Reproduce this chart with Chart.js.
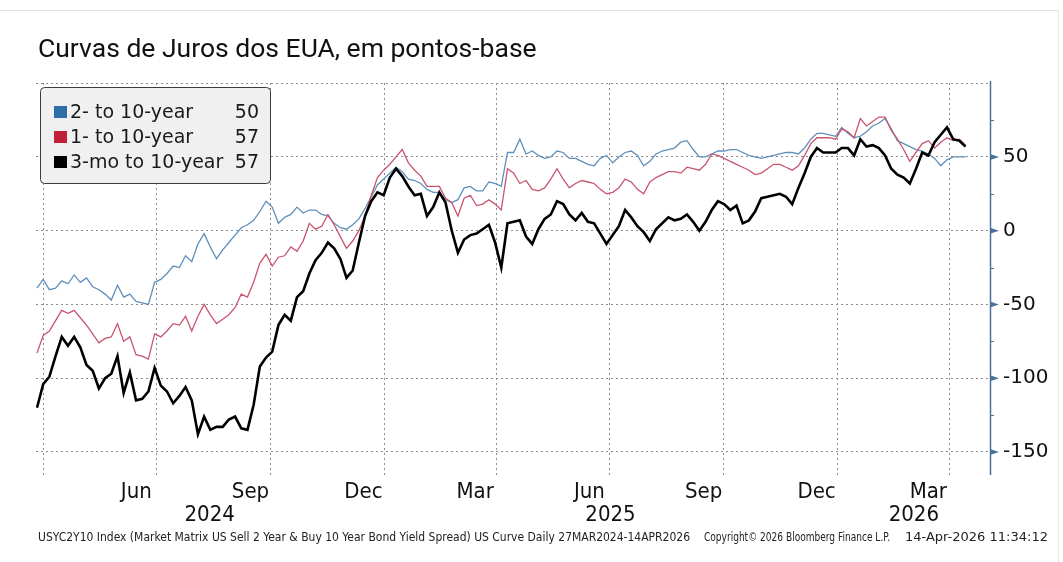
<!DOCTYPE html>
<html><head><meta charset="utf-8">
<script src="https://cdn.jsdelivr.net/npm/chart.js@4"></script>
<style>html,body{margin:0;padding:0;background:#fff;}canvas{display:block}</style>
</head><body>
<canvas id="c" width="1063" height="562"></canvas>
<script>
const chartTitle = 'Curvas de Juros dos EUA, em pontos-base';
const startDate = '2024-03-27';
const endDate = '2026-04-14';
const seriesNames = ['2- to 10-year', '1- to 10-year', '3-mo to 10-year'];
const lastValues = ['50', '57', '57'];
const seriesColors = ['#5f8fbb', '#c9546f', '#000000'];
const swatchColors = ['#2f6da8', '#c21f3a', '#000000'];

// sampled values (basis points), evenly spaced from startDate to endDate
const twoTen = [-39,-33,-40,-39,-34,-36,-30,-35,-32,-38,-40,-43,-47,-37,-45,-43,-48,-49,-50,-35,
-33,-29,-24,-25,-17,-21,-9,-2,-11,-19,-13,-8,-3,2,4,7,13,20,16,5,
9,11,16,12,14,14,11,10,5,2,1,4,8,15,23,31,35,39,43,40,
35,34,32,28,26,26,21,19,21,29,30,27,27,33,32,30,53,53,62,52,
54,51,49,50,54,53,49,49,47,45,44,49,51,46,50,53,54,51,44,47,
52,54,55,56,60,61,55,50,50,52,54,54,55,55,53,51,50,49,50,51,
52,53,53,52,56,62,66,66,65,64,70,66,63,64,67,71,73,76,69,61,
59,57,55,54,52,49,44,48,50,50,50];
const oneTen = [-83,-71,-68,-61,-54,-56,-54,-59,-64,-70,-76,-73,-72,-63,-75,-72,-84,-85,-87,-70,
-72,-68,-63,-64,-58,-68,-58,-50,-57,-63,-60,-57,-52,-43,-45,-35,-22,-16,-24,-18,
-17,-11,-14,-7,5,1,3,11,4,-4,-12,-7,0,10,24,36,41,45,50,55,
46,41,37,30,30,30,22,19,10,22,24,17,18,21,18,14,42,39,32,34,
28,27,29,35,42,35,29,32,34,33,32,28,25,26,29,35,33,28,25,33,
36,38,40,40,39,43,42,41,45,52,51,49,47,45,43,41,38,39,42,45,
45,43,41,44,51,59,63,63,63,62,69,67,63,76,71,74,77,77,68,62,
55,47,53,59,61,56,60,63,61,62,58];
const threeMoTen = [-120,-104,-99,-85,-72,-78,-72,-79,-91,-95,-107,-100,-97,-85,-110,-96,-115,-114,-109,-93,
-105,-109,-117,-112,-106,-115,-138,-126,-135,-133,-133,-128,-126,-134,-135,-118,-92,-86,-82,-64,
-57,-61,-45,-41,-29,-20,-15,-8,-12,-19,-32,-27,-8,10,20,26,24,36,42,37,
30,24,25,10,16,26,19,0,-15,-6,-3,-2,1,4,-8,-25,5,6,7,-4,
-9,1,8,11,20,18,11,7,12,6,5,-2,-9,-3,3,14,9,3,-1,-7,
1,5,9,7,8,11,6,0,6,14,20,18,14,17,5,7,13,22,23,24,
25,23,18,29,39,50,56,53,53,53,56,56,51,62,57,58,56,51,42,38,
36,32,42,53,51,60,65,70,62,61,57];

const yTickValues = [-150, -100, -50, 0, 50];
const yMinorValues = [-125, -75, -25, 25, 75];
const quarterStarts = ['2024-04-01','2024-07-01','2024-10-01','2025-01-01','2025-04-01','2025-07-01','2025-10-01','2026-01-01','2026-04-01'];
const monthLabels = [['Jun','2024-06-15'],['Sep','2024-09-15'],['Dec','2024-12-15'],['Mar','2025-03-15'],['Jun','2025-06-15'],['Sep','2025-09-15'],['Dec','2025-12-15'],['Mar','2026-03-15']];
const yearLabels = [['2024','2024-01-01','2024-12-31'],['2025','2025-01-01','2025-12-31'],['2026','2026-01-01','2026-12-31']];
const footerParts = [
  'USYC2Y10 Index (Market Matrix US Sell 2 Year & Buy 10 Year Bond Yield Spread) US Curve Daily 27MAR2024-14APR2026',
  'Copyright\u00A9 2026 Bloomberg Finance L.P.',
  '14-Apr-2026 11:34:12'
];

const DAY = 86400000;
const dayOf = d => (Date.parse(d) - Date.parse(startDate)) / DAY;
const span = dayOf(endDate);
const toPts = arr => arr.map((v, i) => ({x: i * span / (arr.length - 1), y: v}));

const AXIS_COLOR = '#4a7299';
const GRID_COLOR = '#8c8c8c';

function fitText(ctx, text, x, y, w) {
  const m = ctx.measureText(text).width;
  ctx.save();
  ctx.translate(x, y);
  ctx.scale(w / m, 1);
  ctx.fillText(text, 0, 0);
  ctx.restore();
}

const deco = {
  id: 'deco',
  beforeDraw(chart) {
    const ctx = chart.ctx;
    ctx.save();
    ctx.fillStyle = '#fff';
    ctx.fillRect(0, 0, chart.width, chart.height);
    ctx.strokeStyle = '#e2e2e2';
    ctx.lineWidth = 1;
    ctx.beginPath();
    ctx.moveTo(0, 10.5); ctx.lineTo(1058.5, 10.5); ctx.lineTo(1058.5, 562);
    ctx.stroke();
    ctx.fillStyle = '#111';
    ctx.font = '26.5px Roboto';
    ctx.textBaseline = 'middle';
    ctx.textAlign = 'left';
    ctx.fillText(chartTitle, 38, 50);
    ctx.restore();
  },
  afterDraw(chart) {
    const ctx = chart.ctx;
    const x = chart.scales.x, y = chart.scales.y;
    const a = chart.chartArea;
    ctx.save();
    ctx.strokeStyle = AXIS_COLOR;
    ctx.lineWidth = 1.5;
    ctx.beginPath();
    ctx.moveTo(a.right + 0.5, a.top - 2); ctx.lineTo(a.right + 0.5, a.bottom);
    ctx.stroke();
    ctx.fillStyle = AXIS_COLOR;
    yTickValues.forEach(v => {
      const py = y.getPixelForValue(v);
      ctx.beginPath();
      ctx.moveTo(a.right, py - 3); ctx.lineTo(a.right + 9, py); ctx.lineTo(a.right, py + 3);
      ctx.closePath(); ctx.fill();
    });
    ctx.lineWidth = 1;
    yMinorValues.forEach(v => {
      const py = Math.round(y.getPixelForValue(v)) + 0.5;
      ctx.beginPath(); ctx.moveTo(a.right, py); ctx.lineTo(a.right + 4, py); ctx.stroke();
    });
    const bx = 40.5, by = 87.5, bw = 230, bh = 96, r = 4;
    ctx.beginPath();
    ctx.moveTo(bx + r, by); ctx.lineTo(bx + bw - r, by); ctx.quadraticCurveTo(bx + bw, by, bx + bw, by + r);
    ctx.lineTo(bx + bw, by + bh - r); ctx.quadraticCurveTo(bx + bw, by + bh, bx + bw - r, by + bh);
    ctx.lineTo(bx + r, by + bh); ctx.quadraticCurveTo(bx, by + bh, bx, by + bh - r);
    ctx.lineTo(bx, by + r); ctx.quadraticCurveTo(bx, by, bx + r, by);
    ctx.closePath();
    ctx.fillStyle = '#f0f0f0'; ctx.fill();
    ctx.strokeStyle = '#3a3a3a'; ctx.lineWidth = 1; ctx.stroke();
    ctx.font = '19px "DejaVu Sans"';
    ctx.textBaseline = 'middle';
    seriesNames.forEach((n, i) => {
      const cy = 112 + i * 25;
      ctx.fillStyle = swatchColors[i];
      ctx.fillRect(54, cy - 6, 13, 12);
      ctx.fillStyle = '#1a1a1a';
      ctx.textAlign = 'left';
      ctx.fillText(n, 70, cy + 1);
      ctx.textAlign = 'right';
      ctx.fillText(lastValues[i], 259, cy + 1);
    });
    ctx.fillStyle = '#111';
    ctx.textAlign = 'center';
    ctx.font = '22px "DejaVu Sans Condensed"';
    monthLabels.forEach(([t, d]) => ctx.fillText(t, x.getPixelForValue(dayOf(d)), 492));
    yearLabels.forEach(([t, d0, d1]) => {
      const lo = Math.max(dayOf(d0), x.min), hi = Math.min(dayOf(d1), x.max);
      ctx.fillText(t, x.getPixelForValue((lo + hi) / 2), 515);
    });
    ctx.font = '12px "DejaVu Sans Condensed"';
    ctx.textAlign = 'left';
    ctx.fillStyle = '#222';
    fitText(ctx, footerParts[0], 38, 538, 652);
    fitText(ctx, footerParts[1], 704, 538, 186);
    fitText(ctx, footerParts[2], 905, 538, 143);
    ctx.restore();
  }
};

new Chart(document.getElementById('c'), {
  type: 'line',
  data: {
    datasets: [
      {label: seriesNames[0], data: toPts(twoTen), borderColor: seriesColors[0], borderWidth: 1.3, pointRadius: 0, tension: 0, order: 2},
      {label: seriesNames[1], data: toPts(oneTen), borderColor: seriesColors[1], borderWidth: 1.3, pointRadius: 0, tension: 0, order: 1},
      {label: seriesNames[2], data: toPts(threeMoTen), borderColor: seriesColors[2], borderWidth: 2.6, pointRadius: 0, tension: 0, order: 0}
    ]
  },
  options: {
    responsive: false, animation: false, devicePixelRatio: 1,
    layout: {padding: {left: 36, top: 83, right: 0, bottom: 0}},
    plugins: {legend: {display: false}, tooltip: {enabled: false}, title: {display: false}},
    scales: {
      x: {
        type: 'linear', position: 'bottom', min: -0.8, max: 767.7,
        afterBuildTicks: s => { s.ticks = quarterStarts.map(d => ({value: dayOf(d)})); },
        afterFit: s => { s.height = 87; },
        ticks: {display: false},
        grid: {color: GRID_COLOR, lineWidth: 1, drawTicks: false},
        border: {display: false, dash: [2, 3]}
      },
      y: {
        type: 'linear', position: 'right', min: -165.6, max: 100.1,
        afterBuildTicks: s => { s.ticks = [...yTickValues, 100].map(v => ({value: v})); },
        afterFit: s => { s.width = 73; },
        ticks: {
          padding: 13, color: '#111', font: {family: 'DejaVu Sans', size: 20},
          callback: v => yTickValues.includes(v) ? String(v) : ''
        },
        grid: {color: GRID_COLOR, lineWidth: 1, drawTicks: false},
        border: {display: false, dash: [2, 3]}
      }
    }
  },
  plugins: [deco]
});
</script>
</body></html>
